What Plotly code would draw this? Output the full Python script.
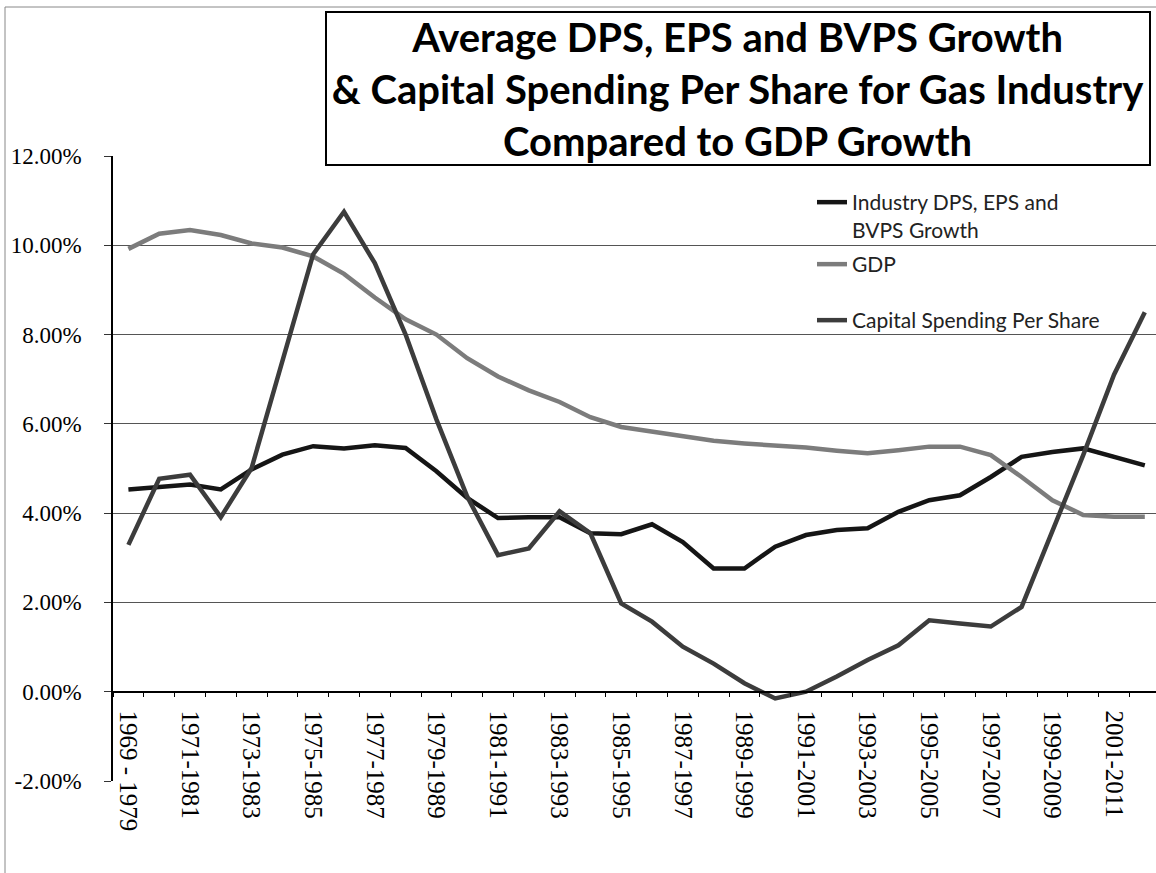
import plotly.graph_objects as go

# ---------------- data ----------------
start_years = list(range(1969, 2003))
categories = ["1969 - 1979"] + [f"{s}-{s + 10}" for s in start_years[1:]]

industry = [4.53, 4.59, 4.64, 4.53, 4.98, 5.31, 5.50, 5.45, 5.52, 5.46,
            4.94, 4.34, 3.89, 3.91, 3.91, 3.55, 3.53, 3.75, 3.35, 2.76,
            2.76, 3.25, 3.51, 3.62, 3.66, 4.03, 4.29, 4.40, 4.81, 5.26,
            5.37, 5.45, 5.26, 5.07]

gdp = [9.92, 10.26, 10.34, 10.23, 10.04, 9.95, 9.75, 9.36, 8.83, 8.34,
       8.00, 7.47, 7.06, 6.75, 6.49, 6.15, 5.93, 5.82, 5.71, 5.62,
       5.56, 5.52, 5.47, 5.40, 5.34, 5.41, 5.49, 5.49, 5.30, 4.81,
       4.29, 3.96, 3.92, 3.92]

capital = [3.29, 4.77, 4.86, 3.91, 5.01, 7.40, 9.80, 10.75, 9.60, 8.00,
           6.10, 4.37, 3.06, 3.21, 4.04, 3.55, 1.98, 1.57, 1.01, 0.63,
           0.19, -0.15, 0.00, 0.34, 0.71, 1.04, 1.60, 1.53, 1.46, 1.90,
           3.60, 5.30, 7.10, 8.50]

names = ["Industry DPS, EPS and<br>BVPS Growth", "GDP", "Capital Spending Per Share"]
y_ticks = [-2, 0, 2, 4, 6, 8, 10, 12]

x_idx = list(range(len(categories)))

# ---------------- figure ----------------
W, H = 1156, 873
L, R, T, B = 113, 0, 156, 92
pw = W - L - R
ph = H - T - B
cat_px = 30.8  # pixel width of a category


def px2x(px):
    return (px - L) / pw


def px2y(py):
    return (H - B - py) / ph


fig = go.Figure()
fig.add_trace(go.Scatter(x=x_idx, y=industry, mode="lines", name=names[0],
                         line=dict(color="#151515", width=4.5), legend="legend"))
fig.add_trace(go.Scatter(x=x_idx, y=gdp, mode="lines", name=names[1],
                         line=dict(color="#7c7c7c", width=4.5), legend="legend2"))
fig.add_trace(go.Scatter(x=x_idx, y=capital, mode="lines", name=names[2],
                         line=dict(color="#3c3c3c", width=4.5), legend="legend3"))

legend_font = dict(family="Lato, Open Sans, sans-serif", size=21, color="#222")
leg_common = dict(xanchor="left", yanchor="top", bgcolor="rgba(0,0,0,0)",
                  font=legend_font, valign="top", itemclick=False)

fig.update_layout(
    width=W, height=H,
    margin=dict(l=L, r=R, t=T, b=B, pad=0),
    paper_bgcolor="white", plot_bgcolor="white",
    legend=dict(x=px2x(812), y=px2y(182), **leg_common),
    legend2=dict(x=px2x(812), y=px2y(244), **leg_common),
    legend3=dict(x=px2x(812), y=px2y(300), **leg_common),
    xaxis=dict(
        range=[-0.5, -0.5 + pw / cat_px],
        tickmode="array",
        tickvals=x_idx[::2],
        ticktext=categories[::2],
        tickangle=90,
        ticks="",
        ticklabelstandoff=13,
        tickfont=dict(family="Liberation Serif, serif", size=25, color="black"),
        showline=True, linecolor="black", linewidth=1.5,
        showgrid=False, zeroline=False,
        anchor="free",
        position=(0 - y_ticks[0]) / (y_ticks[-1] - y_ticks[0]),
        minor=dict(tickmode="linear", tick0=-0.5, dtick=1, ticks="outside",
                   ticklen=5, tickcolor="black", tickwidth=1, showgrid=False),
    ),
    yaxis=dict(
        range=[y_ticks[0], y_ticks[-1]],
        tickmode="array",
        tickvals=y_ticks,
        ticktext=[f"{v:.2f}%" for v in y_ticks],
        ticks="outside", ticklen=7, tickcolor="#333", tickwidth=1,
        ticklabelstandoff=18,
        tickfont=dict(family="Liberation Serif, serif", size=23, color="black"),
        showline=True, linecolor="black", linewidth=1.5,
        showgrid=True, gridcolor="#555", gridwidth=1,
        zeroline=False,
    ),
    showlegend=True,
)

# title box
fig.add_annotation(
    xref="paper", yref="paper",
    x=px2x(738), y=px2y(88),
    xanchor="center", yanchor="middle",
    text="Average DPS, EPS and BVPS Growth<br>& Capital Spending Per Share for Gas Industry<br>Compared to GDP Growth",
    showarrow=False, align="center", valign="middle",
    font=dict(family="Lato, Open Sans, sans-serif", size=40, color="black", weight="bold"),
    bordercolor="black", borderwidth=2, borderpad=0,
    width=822, height=151,
)

# chart outer border
fig.add_shape(type="rect", xref="paper", yref="paper",
              x0=px2x(5), x1=px2x(1165), y0=px2y(885), y1=px2y(7),
              line=dict(color="#888", width=1), layer="below")

fig.write_html("out.html")
